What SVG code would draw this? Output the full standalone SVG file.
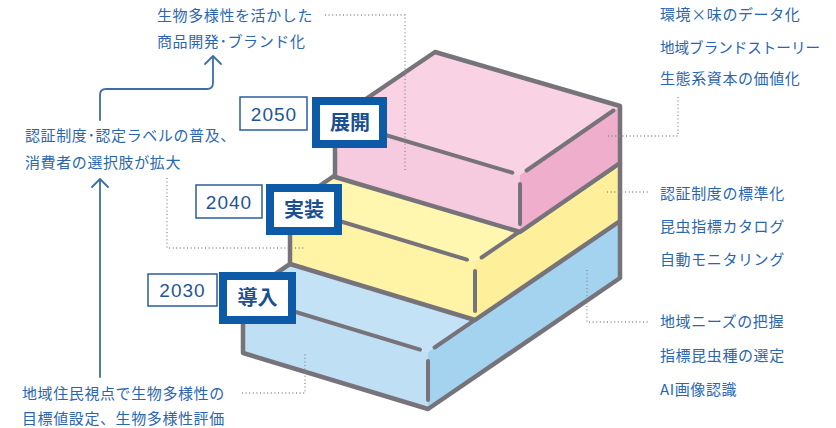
<svg xmlns="http://www.w3.org/2000/svg" width="836" height="428" viewBox="0 0 836 428">
<style>
.txt{font-family:"Noto Sans CJK JP","Noto Sans",sans-serif;font-size:15px;fill:#2a66ae;letter-spacing:0.6px}
.yr{font-family:"Liberation Sans","Noto Sans",sans-serif;font-size:19px;fill:#1f5596;text-anchor:middle;letter-spacing:1px}
.lbl{font-family:"Noto Sans CJK JP",sans-serif;font-size:20px;font-weight:700;fill:#1b4f8f;text-anchor:middle}
.ybox{fill:#fff;stroke:#2a5d9c;stroke-width:1.5}
.tbox{fill:#fff;stroke:#0d5aa7;stroke-width:8}
.edge{fill:none;stroke:#77737a;stroke-width:4.5;stroke-linejoin:round}
.inner{fill:none;stroke:#77737a;stroke-width:4;stroke-linecap:round}
.dot{fill:none;stroke:#8a8a8a;stroke-width:1.3;stroke-dasharray:1 2.6}
.arr{fill:none;stroke:#3d6fa6;stroke-width:1.8;stroke-linecap:round;stroke-linejoin:round}
</style>

<g id="block-2030">
  <polygon points="243,296 435,165 620,221 428,352" fill="#c4e2f6"/>
  <polygon points="243,296 428,352 428,409 243,353" fill="#bfdff4"/>
  <polygon points="428,352 620,221 620,278 428,409" fill="#a4d3f0"/>
  <polygon class="edge" points="243,296 435,165 620,221 620,278 428,409 243,353"/>
  <path class="inner" d="M243,296 L420,349.7 M434.6,347.5 L613,225.5 M428,361 L428,400"/>
</g>

<g id="block-2040">
  <polygon points="290,206 435,107 620,163 475,262" fill="#fff6b0"/>
  <polygon points="290,206 475,262 475,320 290,264" fill="#fff4a6"/>
  <polygon points="475,262 620,163 620,221 475,320" fill="#fef09a"/>
  <polygon class="edge" points="290,206 435,107 620,163 620,221 475,320 290,264"/>
  <path class="inner" d="M290,206 L467,259.7 M481.6,257.5 L613.4,167.5 M475,271 L475,311"/>
</g>

<g id="block-2050">
  <polygon points="335,120 435,52 620,106 520,175" fill="#f9d2e4"/>
  <polygon points="335,120 520,175 520,232 335,177" fill="#f7cbdf"/>
  <polygon points="520,175 620,106 620,163 520,232" fill="#efaecb"/>
  <polygon class="edge" points="335,120 435,52 620,106 620,163 520,232 335,177"/>
  <path class="inner" d="M335,120 L512.3,172.7 M526.6,170.5 L613.4,110.5 M520,184 L520,224"/>
</g>

<g id="connectors">
  <path class="dot" d="M325,15 H405 V170"/>
  <path class="dot" d="M678,97 V136 H607"/>
  <path class="dot" d="M607,192 H650"/>
  <path class="dot" d="M167,178 V248 H305"/>
  <path class="dot" d="M587,270 V322 H650"/>
  <path class="dot" d="M242,393 H305 V352"/>
  <path class="arr" d="M100,377 V179 M92,187 L100,179 L108,187"/>
  <path class="arr" d="M100,120 V95 Q100,89 106,89 H207 Q213,89 213,83 V56 M205,64 L213,56 L221,64"/>
</g>

<g id="label-2050">
  <rect class="ybox" x="240" y="97" width="67" height="33"/>
  <text class="yr" x="274" y="121">2050</text>
  <rect class="tbox" x="316" y="101" width="67" height="43"/>
  <text class="lbl" x="350" y="130">展開</text>
</g>
<g id="label-2040">
  <rect class="ybox" x="196" y="185" width="66" height="33"/>
  <text class="yr" x="229" y="209">2040</text>
  <rect class="tbox" x="270" y="188" width="68" height="43"/>
  <text class="lbl" x="304" y="217">実装</text>
</g>
<g id="label-2030">
  <rect class="ybox" x="148" y="274" width="69" height="32"/>
  <text class="yr" x="182.5" y="297">2030</text>
  <rect class="tbox" x="223" y="276" width="69" height="44"/>
  <text class="lbl" x="257.5" y="305">導入</text>
</g>

<g id="text-left">
  <text class="txt" x="157" y="21">生物多様性を活かした</text>
  <text class="txt" x="157" y="47">商品開発･ブランド化</text>
  <text class="txt" x="25" y="141">認証制度･認定ラベルの普及、</text>
  <text class="txt" x="25" y="168">消費者の選択肢が拡大</text>
  <text class="txt" x="22" y="399">地域住民視点で生物多様性の</text>
  <text class="txt" x="22" y="424">目標値設定、生物多様性評価</text>
</g>

<g id="text-right">
  <text class="txt" x="660" y="20">環境×味のデータ化</text>
  <text class="txt" x="660" y="53" style="letter-spacing:0" textLength="160" lengthAdjust="spacingAndGlyphs">地域ブランドストーリー</text>
  <text class="txt" x="660" y="84">生態系資本の価値化</text>
  <text class="txt" x="660" y="199">認証制度の標準化</text>
  <text class="txt" x="660" y="232">昆虫指標カタログ</text>
  <text class="txt" x="660" y="265">自動モニタリング</text>
  <text class="txt" x="660" y="327">地域ニーズの把握</text>
  <text class="txt" x="660" y="361">指標昆虫種の選定</text>
  <text class="txt" x="660" y="395">AI画像認識</text>
</g>
</svg>
